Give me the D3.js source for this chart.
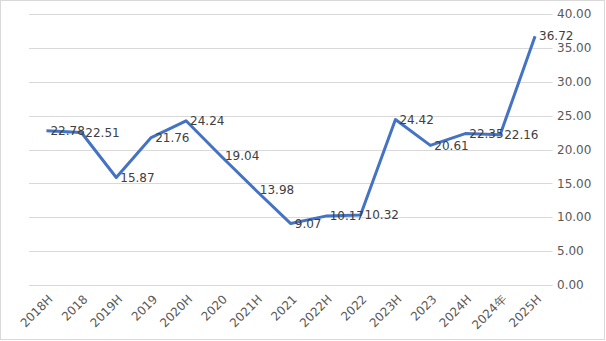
<!DOCTYPE html>
<html><head><meta charset="utf-8">
<script src="https://cdn.jsdelivr.net/npm/d3@7"></script>
<style>body{margin:0;background:#fff}svg{display:block}text{font-family:"DejaVu Sans",sans-serif}</style>
</head><body><svg id="c" width="606" height="341"></svg>
<script>
const categories = ["2018H","2018","2019H","2019","2020H","2020","2021H","2021","2022H","2022","2023H","2023","2024H","2024年","2025H"];
const values = [22.78,22.51,15.87,21.76,24.24,19.04,13.98,9.07,10.17,10.32,24.42,20.61,22.35,22.16,36.72];
const yTicks = [0,5,10,15,20,25,30,35,40];

(function(){
const svg = d3.select("#c");
svg.append("rect").attr("x",0.5).attr("y",0.5).attr("width",604).attr("height",339)
  .attr("fill","#fff").attr("stroke","#d9d9d9");

const pLeft = 29, pRight = 552.5, pTop = 14, pBottom = 285;
const x = d3.scalePoint().domain(categories).range([pLeft,pRight]).padding(0.5);
const y = d3.scaleLinear().domain([0,40]).range([pBottom,pTop]);

svg.append("g").selectAll("line").data(yTicks).join("line")
  .attr("x1",pLeft).attr("x2",pRight).attr("y1",d=>Math.round(y(d))+0.5).attr("y2",d=>Math.round(y(d))+0.5)
  .attr("stroke","#d9d9d9").attr("stroke-width",1);

svg.append("g").selectAll("text").data(yTicks).join("text")
  .attr("x",557).attr("y",d=>y(d)).attr("dy","0.35em")
  .attr("font-size","12px").attr("fill","#595959")
  .text(d=>d.toFixed(2));

svg.append("g").selectAll("text").data(categories).join("text")
  .attr("transform",d=>`translate(${x(d)+4},${pBottom+12}) rotate(-45)`)
  .attr("text-anchor","end").attr("dy","0.35em")
  .attr("font-size","12px").attr("fill","#595959")
  .text(d=>d);

const line = d3.line().x((d,i)=>x(categories[i])).y(d=>y(d));
svg.append("path").datum(values).attr("d",line)
  .attr("fill","none").attr("stroke","#4472C4").attr("stroke-width",3).attr("stroke-linejoin","round");

svg.append("g").selectAll("text").data(values).join("text")
  .attr("x",(d,i)=>x(categories[i])+4).attr("y",d=>y(d)).attr("dy","0.35em")
  .attr("font-size","12px").attr("fill","#404040")
  .text(d=>d.toFixed(2));
})();
</script></body></html>
